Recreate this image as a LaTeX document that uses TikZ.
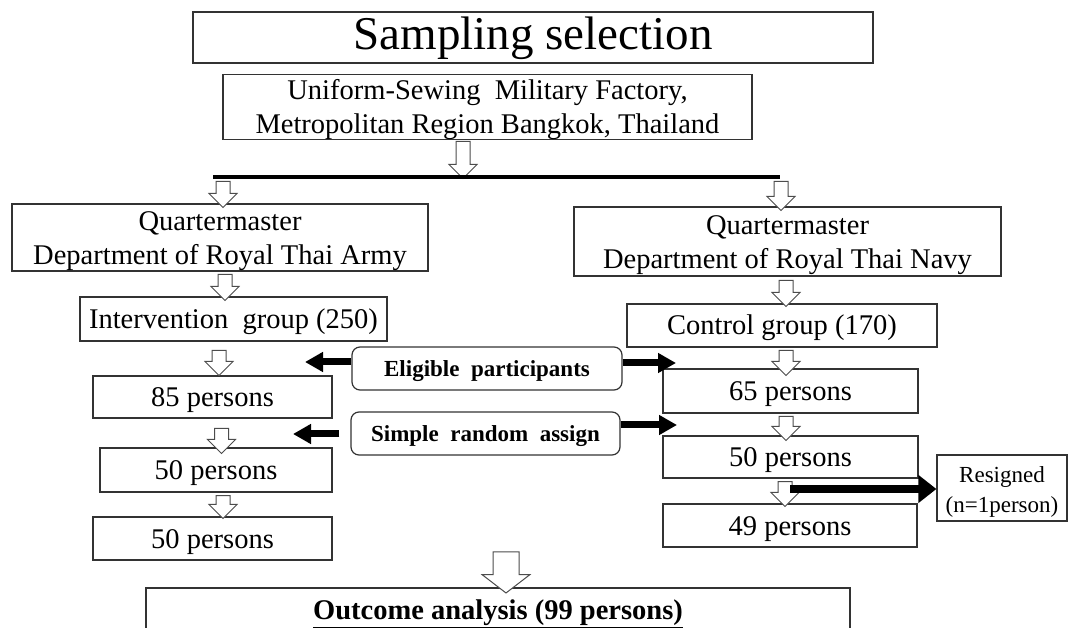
\documentclass[tikz,border=0pt]{standalone}
\usepackage{fontspec}
\setmainfont{Liberation Serif}
\usetikzlibrary{shapes.arrows,arrows.meta}

\newcommand{\liftup}[1]{\rule{0pt}{#1}}

\tikzstyle{block} = [rectangle,
    draw=black!80,
    line width=1.2pt,
    inner sep=0pt,
    align=center,
    font=\fontsize{28.5}{34}\selectfont]
\tikzstyle{line} = [block,
    text height=23.5pt,
    text depth=4.5pt]
\tikzstyle{note} = [block,
    rounded corners=8pt,
    text height=20.5pt,
    text depth=3.5pt,
    font=\bfseries\fontsize{23}{27}\selectfont]
\tikzstyle{hollow} = [single arrow,
    draw=black!70,
    fill=white,
    line width=1pt,
    rotate=-90,
    inner xsep=0pt,
    inner ysep=6.5pt,
    minimum width=27pt,
    single arrow head extend=7pt,
    single arrow tip angle=90]
\tikzstyle{thickarrow} = [line width=7pt,
    -{Triangle[length=18pt,width=19pt]}]

\begin{document}
\begin{tikzpicture}[x=1pt,y=-1pt]
    \useasboundingbox (0,0) rectangle (1072,628);
    \clip (0,0) rectangle (1072,628);
    \node (title) [block, minimum width=680pt, minimum height=51pt, text height=33pt, text depth=9pt,
        font=\fontsize{47}{52}\selectfont] at (533,37.5) {Sampling selection};
    \node (factory) [block, minimum width=529pt, minimum height=62pt] at (487.5,107)
        {\liftup{25.5pt}Uniform-Sewing\ \ Military Factory,\\Metropolitan Region Bangkok, Thailand};
    \node (army) [block, minimum width=416pt, minimum height=67pt] at (220,237.5)
        {\liftup{25.5pt}Quartermaster\\Department of Royal Thai Army};
    \node (navy) [block, minimum width=427pt, minimum height=69pt] at (787.5,241.5)
        {\liftup{25.5pt}Quartermaster\\Department of Royal Thai Navy};
    \node (interv) [line, minimum width=307pt, minimum height=44pt] at (233.5,319) {Intervention\ \ group (250)};
    \node (control) [line, minimum width=310pt, minimum height=43pt] at (782,325.5) {Control group (170)};
    \node (left85) [line, minimum width=239pt, minimum height=42pt] at (212.5,397) {85 persons};
    \node (right65) [line, minimum width=255pt, minimum height=44pt] at (790.5,391) {65 persons};
    \node (left50) [line, minimum width=232pt, minimum height=44pt] at (216,470) {50 persons};
    \node (right50) [line, minimum width=255pt, minimum height=42pt] at (790.5,457) {50 persons};
    \node (leftend) [line, minimum width=239pt, minimum height=43pt] at (212.5,538.5) {50 persons};
    \node (rightend) [line, minimum width=254pt, minimum height=43pt] at (790,525.5) {49 persons};
    \node (resigned) [block, minimum width=130pt, minimum height=66pt,
        font=\fontsize{23}{30}\selectfont] at (1002,488) {\liftup{24pt}Resigned\\(n=1person)};
    \node (eligible) [note, minimum width=270pt, minimum height=43pt] at (487,368.5) {Eligible\ \ participants};
    \node (simple) [note, minimum width=269pt, minimum height=43pt] at (485.5,433.5) {Simple\ \ random\ \ assign};
    \node (outcome) [block, anchor=base, minimum width=704pt, text height=31.5pt, text depth=32pt,
        font=\bfseries\fontsize{28.5}{32}\selectfont] at (498,619.5) {\underline{Outcome analysis (99 persons)}};

    \node (hfactory) [hollow, minimum height=37pt] at (463,156.5) {};
    \node (hleft) [hollow, minimum height=26pt] at (223,191) {};
    \node (hright) [hollow, minimum height=29pt] at (781,192.5) {};
    \node (harmy) [hollow, minimum height=26pt] at (225,284) {};
    \node (hnavy) [hollow, minimum height=26pt] at (786,290) {};
    \node (hinterv) [hollow, minimum height=25pt] at (219,359.5) {};
    \node (hleftb) [hollow, minimum height=25pt] at (221.5,437.5) {};
    \node (hleftc) [hollow, minimum height=23pt] at (223,503.5) {};
    \node (hcontrol) [hollow, minimum height=25pt] at (786,359.5) {};
    \node (hrightb) [hollow, minimum height=24pt] at (786,425) {};
    \node (hrightc) [hollow, minimum height=25pt] at (785,490.5) {};
    \node (houtcome) [hollow, minimum height=41pt, minimum width=47pt, inner ysep=12.5pt,
        single arrow head extend=11pt, single arrow tip angle=105] at (506,567.5) {};

    \coordinate (barL) at (213,177);
    \coordinate (barR) at (780,177);
    \draw [line width=4pt] (barL) -- (barR);

    \coordinate (eligL) at (305,362);
    \coordinate (eligR) at (676,363);
    \coordinate (simpL) at (293,434);
    \coordinate (simpR) at (677,425);
    \coordinate (resA) at (790,489);
    \draw [thickarrow] ([yshift=6.5pt]eligible.west) -- (eligL);
    \draw [thickarrow] ([yshift=5.5pt]eligible.east) -- (eligR);
    \draw [thickarrow] ([xshift=-11pt,yshift=-0.5pt]simple.west) -- (simpL);
    \draw [thickarrow] ([yshift=8.5pt]simple.east) -- (simpR);
    \draw [line width=7pt, -{Triangle[length=18pt,width=27pt]}] (resA) -- (resA -| resigned.west);
\end{tikzpicture}
\end{document}
